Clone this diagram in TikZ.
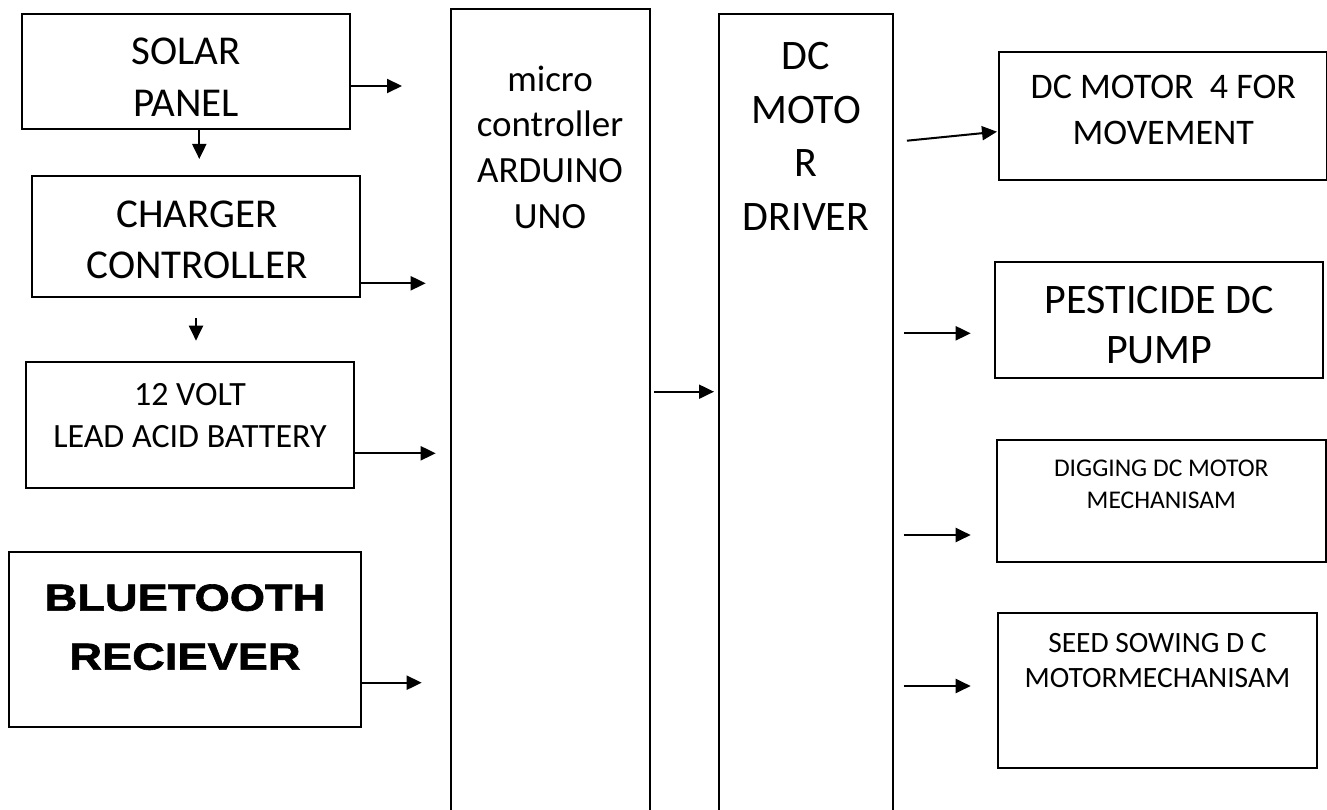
\documentclass[tikz,border=0pt]{standalone}
\usepackage{fontspec}
\setmainfont{Carlito}
\newfontfamily\btfont[FakeStretch=1.2, BoldFeatures={FakeBold=1.6}]{Liberation Sans}
\usetikzlibrary{arrows.meta}
\tikzset{
  box/.style={draw=black, line width=2pt, inner sep=0pt},
  lbl/.style={inner sep=0pt, align=center, text=black},
  arr/.style={line width=2pt, -{Triangle[length=15pt,width=14pt]}},
}
\begin{document}
\begin{tikzpicture}[x=1pt,y=-1pt]
\useasboundingbox (0,0) rectangle (1327,810);
\clip (0,0) rectangle (1327,810);
\fill[white] (0,0) rectangle (1327,810);

% boxes
\node[box, minimum width=328pt, minimum height=115pt] (solar) at (186,71.5) {};
\node[box, minimum width=328.3pt, minimum height=121pt] (charger) at (195.85,236.5) {};
\node[box, minimum width=328pt, minimum height=125.7pt] (battery) at (190,424.85) {};
\node[box, minimum width=351.4pt, minimum height=174.7pt] (bt) at (185,639.35) {};
\node[box, minimum width=199pt, minimum height=821pt] (mcu) at (550.5,419.5) {};
\node[box, minimum width=174pt, minimum height=816pt] (drv) at (806,422) {};
\node[box, minimum width=328pt, minimum height=128pt] (m4) at (1163,116) {};
\node[box, minimum width=327.7pt, minimum height=116pt] (pump) at (1158.85,320.3) {};
\node[box, minimum width=328.4pt, minimum height=121.7pt] (dig) at (1161.5,500.85) {};
\node[box, minimum width=318.4pt, minimum height=154.4pt] (seed) at (1157.5,690.5) {};

% labels
\node[lbl, font={\fontsize{41}{51.6}\selectfont}] (solar-t) at (186,77.4) {SOLAR\\PANEL};
\node[lbl, font={\fontsize{41}{51.6}\selectfont}] (charger-t) at (197,240) {CHARGER\\CONTROLLER};
\node[lbl, font={\fontsize{34}{41.7}\selectfont}] (battery-t) at (190,415.6) {12 VOLT\\LEAD ACID BATTERY};
\node[lbl, font={\btfont\bfseries\fontsize{37.7}{59}\selectfont}] (bt-t) at (185,627.2) {BLUETOOTH\\RECIEVER};
\node[lbl, font={\fontsize{37}{45.7}\selectfont}] (mcu-t) at (550,147.1) {micro\\controller\\ARDUINO\\UNO};
\node[lbl, font={\fontsize{42}{53.5}\selectfont}] (drv-t) at (806,136.5) {DC\\MOTO\\R\\DRIVER};
\node[lbl, font={\fontsize{36}{46}\selectfont}] (m4-t) at (1163.3,110.1) {DC MOTOR\ \ 4 FOR\\MOVEMENT};
\node[lbl, font={\fontsize{42}{50}\selectfont}] (pump-t) at (1159.3,325) {PESTICIDE DC\\PUMP};
\node[lbl, font={\fontsize{25.5}{32.3}\selectfont}] (dig-t) at (1161.3,484.3) {DIGGING DC MOTOR\\MECHANISAM};
\node[lbl, font={\fontsize{29.5}{35.6}\selectfont}] (seed-t) at (1157.5,660.5) {SEED SOWING D C\\MOTORMECHANISAM};

% connector levels
\coordinate (ya) at (0,86);
\coordinate (yb) at (0,283.3);
\coordinate (yc) at (0,453.3);
\coordinate (yd) at (0,682.7);
\coordinate (ye) at (0,391.7);
\coordinate (yf) at (0,142);
\coordinate (yg) at (0,131.6);
\coordinate (yh) at (0,333.3);
\coordinate (yi) at (0,535);
\coordinate (yj) at (0,686);
\coordinate (xa) at (199.3,0);
\coordinate (xb) at (196,0);

% connectors
\draw[arr, shorten >=48pt] (solar.east |- ya) -- (mcu.west |- ya);
\draw[arr, shorten >=16pt] (solar.south -| xa) -- (charger.north -| xa);
\draw[arr, shorten >=24.3pt] (charger.east |- yb) -- (mcu.west |- yb);
\draw[arr, shorten <=20pt, shorten >=20.3pt] (charger.south -| xb) -- (battery.north -| xb);
\draw[arr, shorten >=14.3pt] (battery.east |- yc) -- (mcu.west |- yc);
\draw[arr, shorten >=28.3pt] (bt.east |- yd) -- (mcu.west |- yd);
\draw[arr, shorten <=3pt, shorten >=4pt] (mcu.east |- ye) -- (drv.west |- ye);
\draw[arr, shorten <=13pt, shorten >=1pt] (drv.east |- yf) -- (m4.west |- yg);
\draw[arr, shorten <=10.3pt, shorten >=23.3pt] (drv.east |- yh) -- (pump.west |- yh);
\draw[arr, shorten <=9.7pt, shorten >=25.6pt] (drv.east |- yi) -- (dig.west |- yi);
\draw[arr, shorten <=9.7pt, shorten >=26.6pt] (drv.east |- yj) -- (seed.west |- yj);
\end{tikzpicture}
\end{document}
